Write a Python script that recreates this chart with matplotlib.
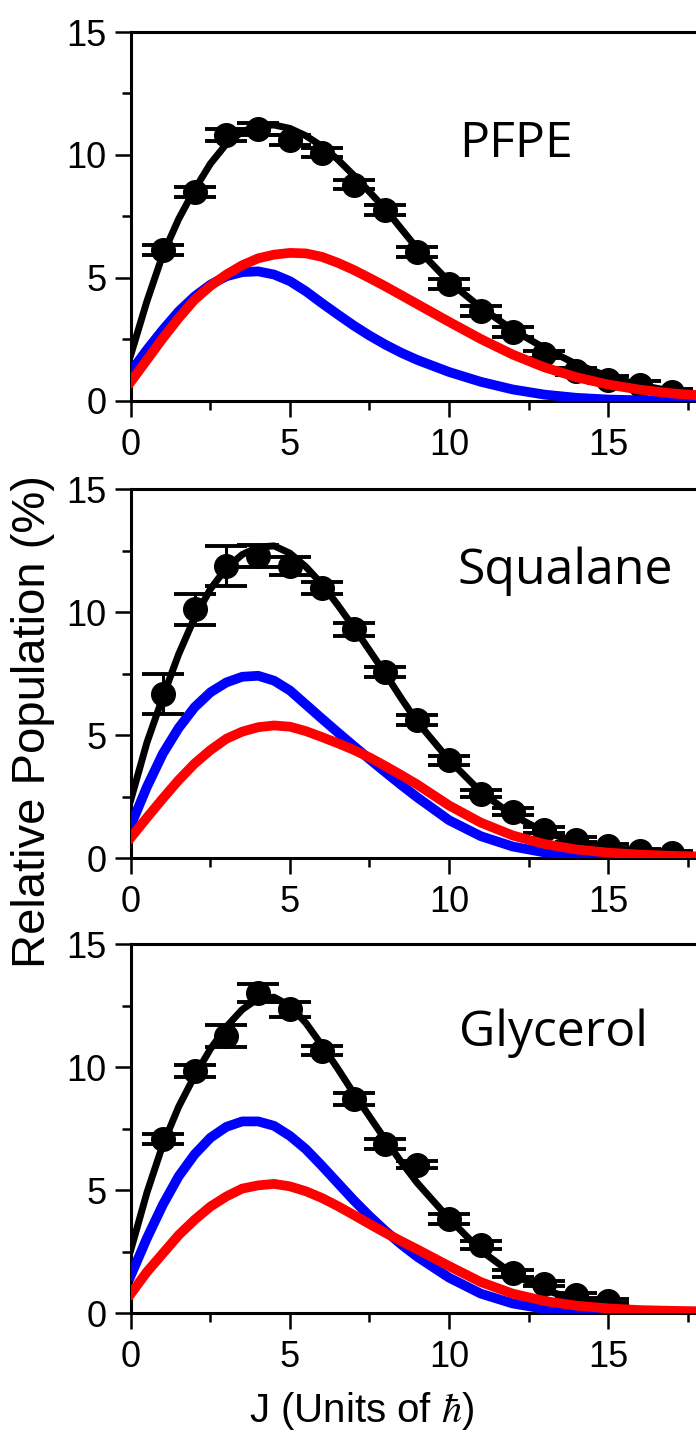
import matplotlib
matplotlib.use("Agg")
import matplotlib.pyplot as plt
from matplotlib.ticker import MultipleLocator

plt.rcParams['font.family'] = ['Liberation Sans', 'DejaVu Sans']
plt.rcParams['mathtext.fontset'] = 'stix'

J_fit = [0, 0.5, 1, 1.5, 2, 2.5, 3, 3.5, 4, 4.5, 5, 5.5, 6, 6.5, 7, 7.5, 8, 8.5, 9,
         10, 11, 12, 13, 14, 15, 16, 17, 18]

# PFPE
pfpe_J = list(range(1, 18))
pfpe_pop = [6.15, 8.5, 10.8, 11.05, 10.6, 10.1, 8.8, 7.75, 6.05, 4.75, 3.65, 2.8, 1.9, 1.2, 0.87, 0.65, 0.35]
pfpe_err = [0.2, 0.2, 0.25, 0.25, 0.2, 0.2, 0.2, 0.2, 0.2, 0.2, 0.2, 0.2, 0.15, 0.15, 0.15, 0.15, 0.15]
pfpe_total = [1.9, 4.05, 5.95, 7.4, 8.6, 9.65, 10.45, 10.95, 11.18, 11.22, 11.08, 10.78, 10.36, 9.82, 9.18,
              8.5, 7.8, 7.0, 6.2, 4.85, 3.8, 2.9, 2.15, 1.5, 1.0, 0.65, 0.4, 0.25]
pfpe_blue = [1.2, 2.08, 2.89, 3.64, 4.25, 4.73, 5.07, 5.24, 5.27, 5.14, 4.87, 4.46, 3.98, 3.52, 3.07,
             2.66, 2.29, 1.96, 1.67, 1.18, 0.78, 0.47, 0.26, 0.13, 0.06, 0.03, 0.01, 0.0]
pfpe_red = [0.79, 1.67, 2.55, 3.37, 4.12, 4.68, 5.14, 5.52, 5.8, 5.95, 6.02, 6.0, 5.86, 5.62, 5.33,
            5.0, 4.66, 4.3, 3.94, 3.22, 2.52, 1.89, 1.37, 0.97, 0.67, 0.46, 0.31, 0.21]

# Squalane
squa_J = list(range(1, 18))
squa_pop = [6.68, 10.12, 11.88, 12.3, 11.88, 11.0, 9.31, 7.56, 5.63, 3.98, 2.63, 1.89, 1.15, 0.75, 0.5, 0.28, 0.2]
squa_err = [0.81, 0.64, 0.83, 0.45, 0.37, 0.24, 0.27, 0.2, 0.2, 0.18, 0.15, 0.15, 0.12, 0.1, 0.1, 0.1, 0.1]
squa_total = [2.4, 4.7, 6.55, 8.3, 9.78, 10.95, 11.8, 12.35, 12.65, 12.7, 12.4, 11.85, 11.15, 10.3, 9.4,
              8.45, 7.5, 6.5, 5.55, 4.0, 2.7, 1.75, 1.08, 0.65, 0.4, 0.25, 0.15, 0.1]
squa_blue = [1.35, 2.9, 4.25, 5.3, 6.14, 6.75, 7.15, 7.38, 7.42, 7.22, 6.82, 6.25, 5.68, 5.12, 4.57,
             4.03, 3.5, 2.98, 2.48, 1.55, 0.9, 0.48, 0.24, 0.11, 0.05, 0.02, 0.01, 0.0]
squa_red = [0.85, 1.65, 2.43, 3.18, 3.85, 4.4, 4.86, 5.15, 5.33, 5.4, 5.35, 5.17, 4.93, 4.68, 4.41,
            4.1, 3.75, 3.38, 3.0, 2.15, 1.45, 0.93, 0.58, 0.36, 0.23, 0.15, 0.1, 0.07]

# Glycerol
glyc_J = list(range(1, 16))
glyc_pop = [7.09, 9.86, 11.28, 13.02, 12.36, 10.68, 8.72, 6.89, 6.04, 3.85, 2.77, 1.62, 1.21, 0.74, 0.5]
glyc_err = [0.2, 0.24, 0.44, 0.35, 0.3, 0.17, 0.24, 0.2, 0.15, 0.2, 0.15, 0.15, 0.12, 0.1, 0.1]
glyc_total = [2.6, 4.9, 6.85, 8.4, 9.65, 10.75, 11.65, 12.35, 12.8, 12.85, 12.5, 11.8, 10.9, 9.95, 8.95,
              8.0, 7.05, 6.15, 5.3, 3.85, 2.55, 1.6, 0.95, 0.55, 0.3, 0.15, 0.08, 0.05]
glyc_blue = [1.55, 3.05, 4.41, 5.57, 6.46, 7.14, 7.58, 7.8, 7.8, 7.62, 7.21, 6.67, 6.0, 5.3, 4.6,
             3.95, 3.35, 2.8, 2.3, 1.45, 0.8, 0.4, 0.18, 0.08, 0.03, 0.01, 0.0, 0.0]
glyc_red = [0.8, 1.68, 2.43, 3.18, 3.8, 4.34, 4.75, 5.07, 5.2, 5.26, 5.16, 4.96, 4.69, 4.36, 4.0,
            3.63, 3.27, 2.93, 2.6, 1.92, 1.27, 0.8, 0.5, 0.31, 0.2, 0.13, 0.1, 0.08]

panels = [
    ("PFPE", pfpe_J, pfpe_pop, pfpe_err, pfpe_total, pfpe_blue, pfpe_red, (10.31, 9.91)),
    ("Squalane", squa_J, squa_pop, squa_err, squa_total, squa_blue, squa_red, (10.25, 11.15)),
    ("Glycerol", glyc_J, glyc_pop, glyc_err, glyc_total, glyc_blue, glyc_red, (10.31, 10.88)),
]
bottoms = [0.72056, 0.40188, 0.08481]

fig = plt.figure(figsize=(6.96, 14.35), dpi=100)

for (name, J, pop, err, total, blue, red, txt), b in zip(panels, bottoms):
    ax = fig.add_axes([0.1882, b, 0.8118, 0.25714])
    ax.plot(J_fit, total, color='black', lw=5.0, zorder=2, solid_joinstyle='round')
    ax.errorbar(J, pop, yerr=err, fmt='o', color='black', ms=17, capsize=15,
                capthick=2.8, elinewidth=2.2, zorder=3)
    ax.plot(J_fit, blue, color='#0000ff', lw=7.0, zorder=4, solid_joinstyle='round')
    ax.plot(J_fit, red, color='#ff0000', lw=7.0, zorder=5, solid_joinstyle='round')
    ax.text(txt[0], txt[1], name, family='Open Sans', fontsize=36, va='baseline', ha='left')

    ax.set_xlim(0, 17.767)
    ax.set_ylim(0, 15)
    ax.xaxis.set_major_locator(MultipleLocator(5))
    ax.xaxis.set_minor_locator(MultipleLocator(2.5))
    ax.yaxis.set_major_locator(MultipleLocator(5))
    ax.yaxis.set_minor_locator(MultipleLocator(2.5))
    ax.spines['right'].set_visible(False)
    for s in ['left', 'bottom', 'top']:
        ax.spines[s].set_linewidth(2.2)
    ax.tick_params(which='both', direction='out', top=False, right=False, width=1.8)
    ax.tick_params(which='major', length=11.5, labelsize=26)
    ax.tick_params(which='minor', length=6.5)
    ax.tick_params(axis='y', which='major', pad=6)
    ax.tick_params(axis='x', which='major', pad=8)

fig.text(0.0474, 0.497, 'Relative Population (%)', rotation=90, fontsize=34,
         ha='center', va='center')
fig.text(0.519, 0.0165, r'J (Units of $\hbar$)', fontsize=29, ha='center', va='center')

fig.savefig('out.png', dpi=100)
